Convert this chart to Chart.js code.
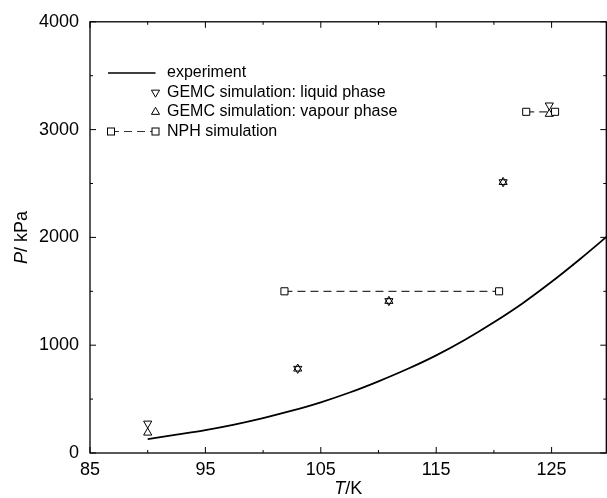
<!DOCTYPE html>
<html>
<head>
<meta charset="utf-8">
<script src="https://cdn.jsdelivr.net/npm/chart.js@4/dist/chart.umd.min.js"></script>
<style>
  html, body { margin: 0; padding: 0; background: #fff; }
  canvas { display: block; }
</style>
</head>
<body>
<canvas id="chart" width="607" height="498"></canvas>
<script>
/* ── data ─────────────────────────────── */
const expT      = [90, 92.5, 95, 97.5, 100, 102.5, 105, 107.5, 110, 112.5, 115, 117.5, 120, 122.5, 125, 127.5, 130];
const expP      = [128, 170, 213, 264, 324, 392, 470, 561, 665, 779, 906, 1051, 1213, 1390, 1588, 1802, 2027];

const gemcT     = [90, 103, 110.9, 120.8, 124.8];
const gemcLiqP  = [274, 782, 1410, 2513, 3225];
const gemcVapP  = [188, 782, 1410, 2513, 3145];

const nphLowT   = [101.85, 120.45];
const nphLowP   = [1500, 1500];
const nphHighT  = [122.8, 125.3];
const nphHighP  = [3165, 3165];

const xMajor    = [85, 95, 105, 115, 125];
const xMinor    = [90, 100, 110, 120];
const yMajor    = [0, 1000, 2000, 3000, 4000];
const yMinor    = [500, 1500, 2500, 3500];

const legendLabels = ['experiment', 'GEMC simulation: liquid phase', 'GEMC simulation: vapour phase', 'NPH simulation'];

/* ── helpers ──────────────────────────── */
const FONT = '"Liberation Sans", Arial, Helvetica, sans-serif';
const pts  = (xs, ys) => xs.map((x, i) => ({ x, y: ys[i] }));

function triangle(ctx, x, y, r, down) {
  const s = down ? -1 : 1;
  ctx.beginPath();
  ctx.moveTo(x, y - s * r);
  ctx.lineTo(x + r * 0.866, y + s * r * 0.5);
  ctx.lineTo(x - r * 0.866, y + s * r * 0.5);
  ctx.closePath();
  ctx.stroke();
}

/* ── frame, inward ticks, axis titles, legend ── */
const decor = {
  id: 'decor',
  afterDraw(chart) {
    const { ctx, chartArea: a, scales: { x, y } } = chart;
    const R = Math.min(a.right, chart.width - 0.7);
    ctx.save();
    ctx.strokeStyle = '#000';
    ctx.lineWidth = 1.3;
    ctx.strokeRect(a.left, a.top, R - a.left, a.bottom - a.top);

    ctx.lineWidth = 1;
    ctx.beginPath();
    const tick = (vals, len) => {
      vals.forEach(v => {
        const px = x.getPixelForValue(v);
        ctx.moveTo(px, a.bottom); ctx.lineTo(px, a.bottom - len);
        ctx.moveTo(px, a.top);    ctx.lineTo(px, a.top + len);
      });
    };
    const tickY = (vals, len) => {
      vals.forEach(v => {
        const py = y.getPixelForValue(v);
        ctx.moveTo(a.left, py); ctx.lineTo(a.left + len, py);
        ctx.moveTo(R, py);      ctx.lineTo(R - len, py);
      });
    };
    tick(xMajor, 6); tick(xMinor, 3);
    tickY(yMajor, 6); tickY(yMinor, 3);
    ctx.stroke();

    // axis titles
    ctx.fillStyle = '#000';
    ctx.textBaseline = 'middle';
    ctx.textAlign = 'left';
    ctx.font = 'italic 18px ' + FONT;
    const wT = ctx.measureText('T').width;
    ctx.font = '18px ' + FONT;
    const wK = ctx.measureText('/K').width;
    const tx = (a.left + R) / 2 - (wT + wK) / 2;
    ctx.font = 'italic 18px ' + FONT;
    ctx.fillText('T', tx, 489);
    ctx.font = '18px ' + FONT;
    ctx.fillText('/K', tx + wT, 489);

    ctx.save();
    ctx.translate(22, (a.top + a.bottom) / 2);
    ctx.rotate(-Math.PI / 2);
    ctx.font = 'italic 18px ' + FONT;
    const wP = ctx.measureText('P').width;
    ctx.font = '18px ' + FONT;
    const wU = ctx.measureText('/ kPa').width;
    const ty = -(wP + wU) / 2;
    ctx.font = 'italic 18px ' + FONT;
    ctx.fillText('P', ty, 0);
    ctx.font = '18px ' + FONT;
    ctx.fillText('/ kPa', ty + wP, 0);
    ctx.restore();

    // legend
    const rows = [73, 92.5, 112, 131.5];
    const lx0 = 111, lx1 = 155.5, tx0 = 167;
    ctx.font = '16px ' + FONT;
    legendLabels.forEach((t, i) => ctx.fillText(t, tx0, rows[i]));

    ctx.lineWidth = 1.6;
    ctx.beginPath(); ctx.moveTo(lx0 - 3, rows[0]); ctx.lineTo(lx1, rows[0]); ctx.stroke();

    ctx.lineWidth = 1;
    triangle(ctx, lx1, rows[1], 4.7, true);
    triangle(ctx, lx1, rows[2], 4.7, false);

    ctx.strokeStyle = '#333';
    ctx.setLineDash([8, 5]);
    ctx.beginPath(); ctx.moveTo(lx0, rows[3]); ctx.lineTo(lx1, rows[3]); ctx.stroke();
    ctx.setLineDash([]);
    ctx.strokeStyle = '#000';
    ctx.fillStyle = '#fff';
    [lx0, lx1].forEach(cx => {
      ctx.fillRect(cx - 3.5, rows[3] - 3.5, 7, 7);
      ctx.strokeRect(cx - 3.5, rows[3] - 3.5, 7, 7);
    });
    ctx.restore();
  }
};

/* ── chart ────────────────────────────── */
const nphStyle = {
  showLine: true,
  borderColor: '#333',
  borderWidth: 1.2,
  borderDash: [8, 5],
  pointStyle: 'rect',
  pointRadius: 5,
  pointBorderWidth: 1,
  pointBorderColor: '#000',
  pointBackgroundColor: '#fff',
};

const triStyle = {
  showLine: false,
  pointStyle: 'triangle',
  pointRadius: 4.7, pointBorderWidth: 1,
  pointBorderColor: '#000', pointBackgroundColor: 'rgba(0,0,0,0)',
};

new Chart(document.getElementById('chart'), {
  type: 'line',
  data: {
    datasets: [
      {
        label: 'experiment',
        data: pts(expT, expP),
        borderColor: '#000', borderWidth: 1.8,
        pointRadius: 0, cubicInterpolationMode: 'monotone',
        clip: 0,
      },
      { label: 'NPH low',     data: pts(nphLowT, nphLowP),   ...nphStyle },
      { label: 'NPH high',    data: pts(nphHighT, nphHighP), ...nphStyle },
      { label: 'GEMC liquid', data: pts(gemcT, gemcLiqP),    ...triStyle, pointRotation: 180 },
      { label: 'GEMC vapour', data: pts(gemcT, gemcVapP),    ...triStyle },
    ],
  },
  options: {
    responsive: false,
    animation: false,
    // no auto padding: plot box runs right up to the canvas edge
    layout: { autoPadding: false, padding: { top: 20.5, right: 0, left: 0, bottom: 0 } },
    plugins: { legend: { display: false }, tooltip: { enabled: false } },
    scales: {
      x: {
        type: 'linear', min: 85, max: 129.8,
        grid: { display: false, drawTicks: false },
        border: { display: false },
        afterBuildTicks: s => { s.ticks = [...xMajor, ...xMinor].sort((a, b) => a - b).map(v => ({ value: v })); },
        afterFit: s => { s.height = 45; },
        ticks: {
          autoSkip: false, maxRotation: 0, padding: 6,
          color: '#000', font: { family: FONT, size: 18 },
          callback: v => xMajor.includes(v) ? String(v) : '',
        },
      },
      y: {
        type: 'linear', min: 0, max: 4000,
        grid: { display: false, drawTicks: false },
        border: { display: false },
        afterBuildTicks: s => { s.ticks = [...yMajor, ...yMinor].sort((a, b) => a - b).map(v => ({ value: v })); },
        afterFit: s => { s.width = 90; },
        ticks: {
          autoSkip: false, padding: 11,
          color: '#000', font: { family: FONT, size: 18 },
          callback: v => yMajor.includes(v) ? String(v) : '',
        },
      },
    },
  },
  plugins: [decor],
});
</script>
</body>
</html>
